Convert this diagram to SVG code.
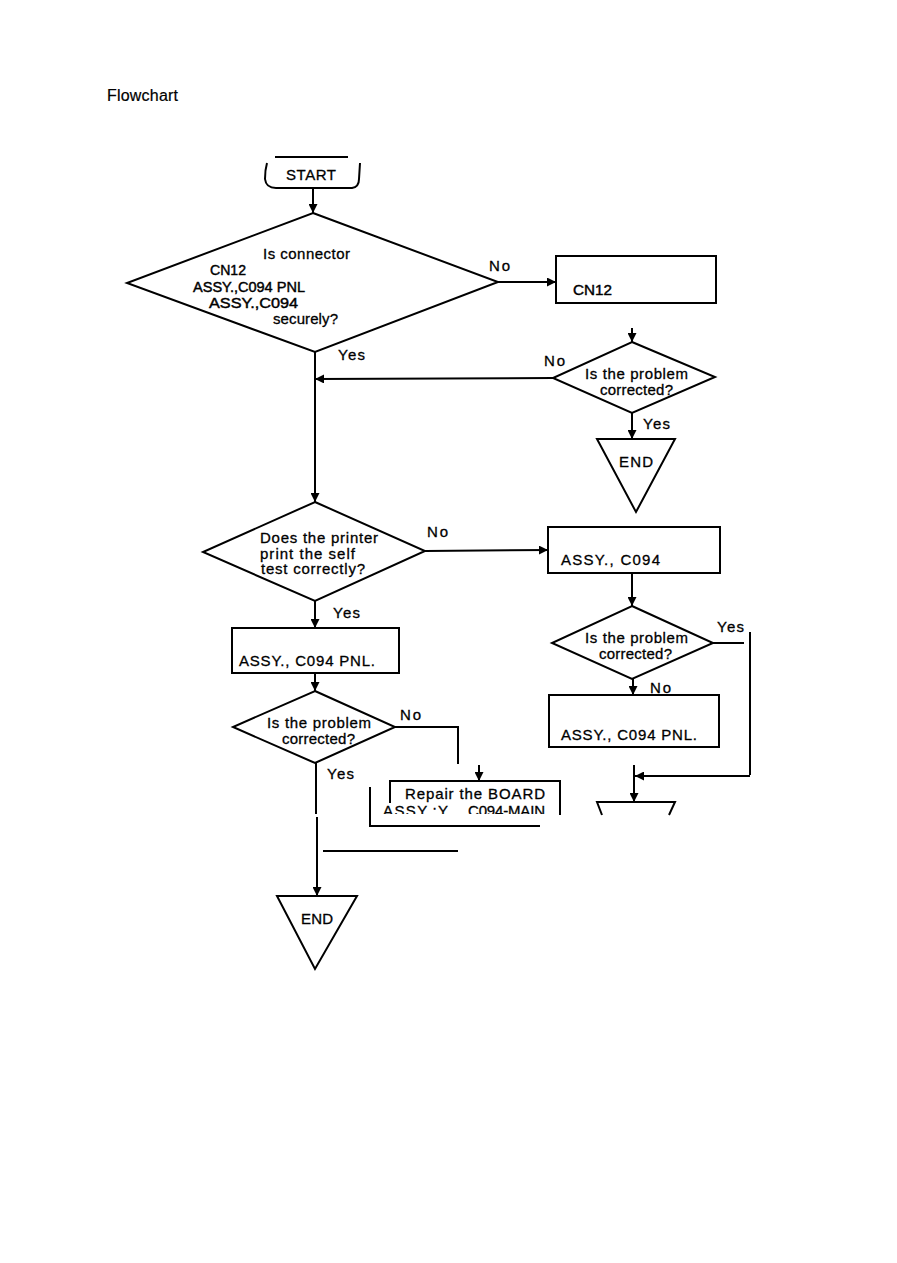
<svg xmlns="http://www.w3.org/2000/svg" width="897" height="1263" viewBox="0 0 897 1263">
<style>
.s{fill:#fff;stroke:#000;stroke-width:2}
.o{fill:none;stroke:#000;stroke-width:2}
.t{font-family:"Liberation Sans",Arial,sans-serif;font-size:15px;fill:#000;stroke:#000;stroke-width:0.3}
.k{font-size:15px;stroke-width:0.45}
.c{stroke:#000;stroke-width:2;fill:none}
.a{marker-end:url(#ah)}
</style>
<defs>
<marker id="ah" viewBox="0 0 10 10" refX="10" refY="5" markerWidth="9" markerHeight="9" markerUnits="userSpaceOnUse" orient="auto">
<path d="M0,0 L10,5 L0,10 z" fill="#000"/>
</marker>
<clipPath id="cut"><rect x="360" y="770" width="220" height="44"/></clipPath>
</defs>
<rect width="897" height="1263" fill="#fff"/>
<text x="107" y="101" class="t" style="font-size:16px;stroke-width:0.2" textLength="71">Flowchart</text>

<g id="start">
<line x1="275" y1="157" x2="348" y2="157" class="o"/>
<path d="M267,163 Q265,170 265,179 Q266,188 276,188 L352,188 Q359,187 359,179 L360,163" class="o"/>
<text x="286" y="180" class="t" textLength="50">START</text>
</g>

<g id="d1">
<polygon points="313,213 498,282 315,352 127,283" class="s"/>
<text x="263" y="259" class="t" textLength="87">Is connector</text>
<text x="210" y="275" class="t k" textLength="36" lengthAdjust="spacingAndGlyphs">CN12</text>
<text x="193" y="292" class="t k" textLength="112" lengthAdjust="spacingAndGlyphs">ASSY.,C094 PNL</text>
<text x="209" y="308" class="t k" textLength="89" lengthAdjust="spacingAndGlyphs">ASSY.,C094</text>
<text x="273" y="324" class="t" textLength="65">securely?</text>
<text x="489" y="271" class="t" textLength="21">No</text>
<text x="338" y="360" class="t" textLength="27">Yes</text>
</g>

<g id="box1">
<rect x="556" y="256" width="160" height="47" class="s"/>
<text x="573" y="295" class="t k" textLength="39" lengthAdjust="spacingAndGlyphs">CN12</text>
</g>

<g id="d2">
<polygon points="632,342 715,377 632,413 553,378" class="s"/>
<text x="585" y="379" class="t" textLength="103">Is the problem</text>
<text x="600" y="395" class="t" textLength="73">corrected?</text>
<text x="544" y="366" class="t" textLength="21">No</text>
<text x="643" y="429" class="t" textLength="27">Yes</text>
</g>

<g id="end1">
<polygon points="597,439 675,439 636,512" class="s"/>
<text x="619" y="467" class="t" textLength="34">END</text>
</g>

<g id="d3">
<polygon points="315,502 425,551 315,601 203,552" class="s"/>
<text x="260" y="543" class="t" textLength="118">Does the printer</text>
<text x="260" y="559" class="t" textLength="95">print the self</text>
<text x="261" y="574" class="t" textLength="104">test correctly?</text>
<text x="427" y="537" class="t" textLength="21">No</text>
<text x="333" y="618" class="t" textLength="27">Yes</text>
</g>

<g id="box3">
<rect x="548" y="527" width="172" height="46" class="s"/>
<text x="561" y="565" class="t" textLength="99">ASSY., C094</text>
</g>

<g id="d4">
<polygon points="632,606 713,643 632,679 552,643" class="s"/>
<text x="585" y="643" class="t" textLength="103">Is the problem</text>
<text x="599" y="659" class="t" textLength="73">corrected?</text>
<text x="717" y="632" class="t" textLength="27">Yes</text>
<text x="650" y="693" class="t" textLength="21">No</text>
</g>

<g id="box4">
<rect x="549" y="695" width="170" height="52" class="s"/>
<text x="561" y="740" class="t" textLength="136">ASSY., C094 PNL.</text>
</g>

<g id="box2">
<rect x="232" y="628" width="167" height="45" class="s"/>
<text x="239" y="666" class="t" textLength="136">ASSY., C094 PNL.</text>
</g>

<g id="d5">
<polygon points="315,691 395,727 315,763 233,727" class="s"/>
<text x="267" y="728" class="t" textLength="104">Is the problem</text>
<text x="282" y="744" class="t" textLength="73">corrected?</text>
<text x="400" y="720" class="t" textLength="21">No</text>
<text x="327" y="779" class="t" textLength="27">Yes</text>
</g>

<g id="repair">
<path d="M390,803 L390,781 L560,781 L560,815" class="o"/>
<path d="M370,787 L370,826 L540,826" class="o"/>
<text x="405" y="799" class="t" textLength="140">Repair the BOARD</text>
<g clip-path="url(#cut)">
<text x="383" y="816" class="t" textLength="65">ASSY.;Y</text>
<text x="468" y="816" class="t" textLength="77">C094-MAIN</text>
</g>
</g>

<g id="end2">
<polyline points="602,815 597,802 675,802 669,815" class="o"/>
</g>

<g id="end3">
<polygon points="277,896 357,896 315,969" class="s"/>
<text x="301" y="924" class="t" textLength="32">END</text>
</g>

<g id="connectors">
<line x1="313" y1="188" x2="313" y2="213" class="c a"/>
<line x1="498" y1="282" x2="556" y2="282" class="c a"/>
<line x1="632" y1="328" x2="632" y2="342" class="c a"/>
<line x1="553" y1="378" x2="315" y2="379" class="c a"/>
<line x1="632" y1="413" x2="632" y2="439" class="c a"/>
<line x1="315" y1="352" x2="315" y2="502" class="c a"/>
<line x1="425" y1="551" x2="548" y2="550" class="c a"/>
<line x1="632" y1="573" x2="632" y2="606" class="c a"/>
<line x1="633" y1="679" x2="633" y2="695" class="c a"/>
<line x1="713" y1="643" x2="744" y2="643" class="c"/>
<line x1="750" y1="632" x2="750" y2="775" class="c"/>
<line x1="750" y1="776" x2="635" y2="776" class="c a"/>
<line x1="634" y1="765" x2="634" y2="802" class="c a"/>
<line x1="315" y1="601" x2="315" y2="628" class="c a"/>
<line x1="315" y1="673" x2="315" y2="691" class="c a"/>
<polyline points="395,727 458,727 458,764" class="c"/>
<line x1="479" y1="765" x2="479" y2="781" class="c a"/>
<line x1="316" y1="763" x2="316" y2="814" class="c"/>
<line x1="317" y1="817" x2="317" y2="896" class="c a"/>
<line x1="323" y1="851" x2="458" y2="851" class="c"/>
</g>
</svg>
